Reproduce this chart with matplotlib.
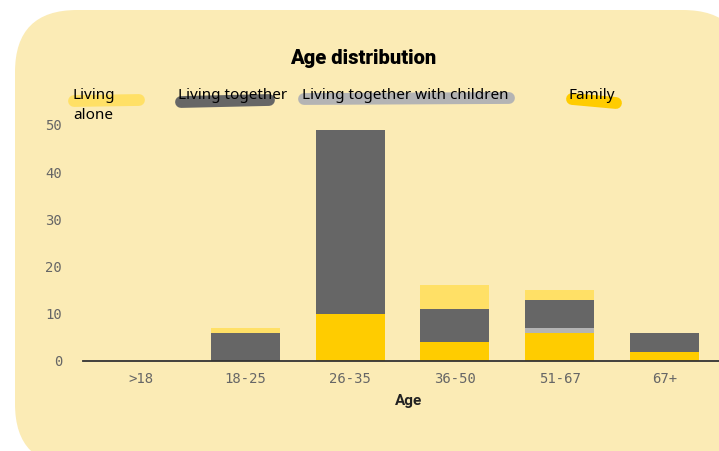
import matplotlib

matplotlib.use("Agg")
import matplotlib.pyplot as plt
import matplotlib.patches as mpatches
from matplotlib.lines import Line2D
from matplotlib.transforms import IdentityTransform
import numpy as np

ages = [">18", "18-25", "26-35", "36-50", "51-67", "67+"]
family = [0, 0, 10, 4, 6, 2]
together_children = [0, 0, 0, 0, 1, 0]
together = [0, 6, 39, 7, 6, 4]
alone = [0, 1, 0, 5, 2, 0]

C_FAMILY = "#FFCC00"
C_CHILDREN = "#B4B4B4"
C_TOGETHER = "#666666"
C_ALONE = "#FFE066"
BG = "#FBEBB5"

W, H = 719, 451
fig = plt.figure(figsize=(W / 100, H / 100), dpi=100)
fig.patch.set_facecolor("white")

# rounded card background, in pixels
card = mpatches.FancyBboxPatch(
    (15, -15), 730, H - 10 + 15,
    boxstyle="round,pad=0,rounding_size=62",
    transform=IdentityTransform(), facecolor=BG, edgecolor="none", zorder=-10,
)
fig.patches.append(card)


def fx(x):
    return x / W


def fy(y):
    return 1 - y / H


ax = fig.add_axes([fx(83), fy(361), fx(722) - fx(83), fy(125) - fy(361)])
ax.set_facecolor("none")
ax.set_zorder(2)

x = np.arange(len(ages))
w = 0.66
bottom = np.zeros(len(ages))
for vals, col in [(family, C_FAMILY), (together_children, C_CHILDREN),
                  (together, C_TOGETHER), (alone, C_ALONE)]:
    ax.bar(x, vals, w, bottom=bottom, color=col, linewidth=0, zorder=2)
    bottom += np.array(vals)

ax.set_xlim(-0.55, len(ages) - 0.45)
ax.set_ylim(0, 50)
ax.set_yticks([0, 10, 20, 30, 40, 50])
ax.set_xticks(x)
ax.set_xticklabels(ages)
for sp in ["top", "right", "left"]:
    ax.spines[sp].set_visible(False)
ax.spines["bottom"].set_color("#333333")
ax.spines["bottom"].set_linewidth(1.3)
ax.spines["bottom"].set_zorder(3)
ax.tick_params(axis="both", length=0, labelsize=10, colors="#666666")
ax.tick_params(axis="y", pad=15)
ax.tick_params(axis="x", pad=8)
for lab in ax.get_xticklabels() + ax.get_yticklabels():
    lab.set_family("DejaVu Sans Mono")
ax.set_xlabel("Age", fontsize=11, fontweight="bold", color="#222222",
              family="Roboto")
ax.xaxis.set_label_coords((409 - 83) / (722 - 83), -0.14)

fig.text(fx(363), fy(58), "Age distribution", ha="center", va="center",
         fontsize=14.5, fontweight="heavy", family="Roboto", color="black")

# legend with highlighter strokes
strokes = [
    ((74, 101), (139, 100), C_ALONE),
    ((181, 102), (269, 100), C_TOGETHER),
    ((304, 99), (509, 98), C_CHILDREN),
    ((572, 99), (616, 103), C_FAMILY),
]
for (x0, y0), (x1, y1), col in strokes:
    fig.add_artist(Line2D([fx(x0), fx(x1)], [fy(y0), fy(y1)], color=col,
                          linewidth=8.5, solid_capstyle="round", zorder=1))

legend_items = [
    (73, "Living\nalone"),
    (178, "Living together"),
    (302, "Living together with children"),
    (568, "Family"),
]
for lx, txt in legend_items:
    fig.text(fx(lx), fy(88), txt, ha="left", va="top", fontsize=11,
             family="Noto Sans", color="black", linespacing=1.45, zorder=2)

fig.savefig("out.png", dpi=100)
